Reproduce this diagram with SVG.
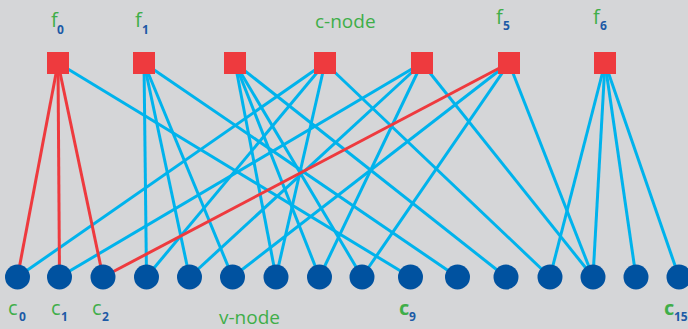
<svg xmlns="http://www.w3.org/2000/svg" width="688" height="329" viewBox="0 0 688 329">
  <defs>
    <style>
      .bg { fill: #d5d6d8; }
      .edge { stroke: #00b3ec; stroke-width: 3; fill: none; }
      .edge.hot { stroke: #ee3a3e; }
      .cnode { fill: #ee3a3e; }
      .vnode { fill: #0052a0; }
      .lbl { font-family: "Open Sans", "Liberation Sans", sans-serif; fill: #3fae49; }
      .main { font-size: 20px; }
      .sub { font-size: 12px; font-weight: bold; fill: #1d5aa6; }
      .title { font-size: 19px; }
    </style>
    <rect id="sq" x="-11" y="-11" width="22" height="22"/>
    <circle id="dot" r="12.5"/>
  </defs>

  <rect class="bg" x="0" y="0" width="688" height="329"/>

  <!-- connectors: check nodes (y=63) to variable nodes (y=277) -->
  <g id="connectors">
    <!-- f0 -->
    <line class="edge" x1="58" y1="63" x2="410.5" y2="277"/>
    <!-- f1 -->
    <line class="edge" x1="144" y1="63" x2="146.5" y2="277"/>
    <line class="edge" x1="144" y1="63" x2="189.5" y2="277"/>
    <line class="edge" x1="144" y1="63" x2="232.5" y2="277"/>
    <line class="edge" x1="144" y1="63" x2="457.5" y2="277"/>
    <!-- f2 -->
    <line class="edge" x1="235" y1="63" x2="276" y2="277"/>
    <line class="edge" x1="235" y1="63" x2="319.5" y2="277"/>
    <line class="edge" x1="235" y1="63" x2="362" y2="277"/>
    <line class="edge" x1="235" y1="63" x2="506" y2="277"/>
    <!-- f3 -->
    <line class="edge" x1="325" y1="63" x2="17.5" y2="277"/>
    <line class="edge" x1="325" y1="63" x2="146.5" y2="277"/>
    <line class="edge" x1="325" y1="63" x2="276" y2="277"/>
    <line class="edge" x1="325" y1="63" x2="550" y2="277"/>
    <!-- f4 -->
    <line class="edge" x1="422" y1="63" x2="59.5" y2="277"/>
    <line class="edge" x1="422" y1="63" x2="189.5" y2="277"/>
    <line class="edge" x1="422" y1="63" x2="319.5" y2="277"/>
    <line class="edge" x1="422" y1="63" x2="593" y2="277"/>
    <!-- f5 -->
    <line class="edge" x1="509" y1="63" x2="232.5" y2="277"/>
    <line class="edge" x1="509" y1="63" x2="362" y2="277"/>
    <line class="edge" x1="509" y1="63" x2="593" y2="277"/>
    <!-- f6 -->
    <line class="edge" x1="605" y1="63" x2="550" y2="277"/>
    <line class="edge" x1="605" y1="63" x2="593" y2="277"/>
    <line class="edge" x1="605" y1="63" x2="636" y2="277"/>
    <line class="edge" x1="605" y1="63" x2="679" y2="277"/>
    <!-- highlighted edges -->
    <line class="edge hot" x1="58" y1="63" x2="17.5" y2="277"/>
    <line class="edge hot" x1="58" y1="63" x2="59.5" y2="277"/>
    <line class="edge hot" x1="58" y1="63" x2="103" y2="277"/>
    <line class="edge hot" x1="509" y1="63" x2="103" y2="277"/>
  </g>

  <!-- check nodes -->
  <g id="f0" class="cnode"><use href="#sq" x="58" y="63"/></g>
  <g id="f1" class="cnode"><use href="#sq" x="144" y="63"/></g>
  <g id="f2" class="cnode"><use href="#sq" x="235" y="63"/></g>
  <g id="f3" class="cnode"><use href="#sq" x="325" y="63"/></g>
  <g id="f4" class="cnode"><use href="#sq" x="422" y="63"/></g>
  <g id="f5" class="cnode"><use href="#sq" x="509" y="63"/></g>
  <g id="f6" class="cnode"><use href="#sq" x="605" y="63"/></g>

  <!-- variable nodes -->
  <g id="c0" class="vnode"><use href="#dot" x="17.5" y="277"/></g>
  <g id="c1" class="vnode"><use href="#dot" x="59.5" y="277"/></g>
  <g id="c2" class="vnode"><use href="#dot" x="103" y="277"/></g>
  <g id="c3" class="vnode"><use href="#dot" x="146.5" y="277"/></g>
  <g id="c4" class="vnode"><use href="#dot" x="189.5" y="277"/></g>
  <g id="c5" class="vnode"><use href="#dot" x="232.5" y="277"/></g>
  <g id="c6" class="vnode"><use href="#dot" x="276" y="277"/></g>
  <g id="c7" class="vnode"><use href="#dot" x="319.5" y="277"/></g>
  <g id="c8" class="vnode"><use href="#dot" x="362" y="277"/></g>
  <g id="c9" class="vnode"><use href="#dot" x="410.5" y="277"/></g>
  <g id="c10" class="vnode"><use href="#dot" x="457.5" y="277"/></g>
  <g id="c11" class="vnode"><use href="#dot" x="506" y="277"/></g>
  <g id="c12" class="vnode"><use href="#dot" x="550" y="277"/></g>
  <g id="c13" class="vnode"><use href="#dot" x="593" y="277"/></g>
  <g id="c14" class="vnode"><use href="#dot" x="636" y="277"/></g>
  <g id="c15" class="vnode"><use href="#dot" x="679" y="277"/></g>

  <!-- labels -->
  <g id="labels" class="lbl">
    <text class="main" x="51" y="27">f<tspan class="sub" x="57" y="34">0</tspan></text>
    <text class="main" x="135" y="27">f<tspan class="sub" x="142" y="34">1</tspan></text>
    <text class="main" x="496" y="24">f<tspan class="sub" x="503" y="30">5</tspan></text>
    <text class="main" x="593" y="24">f<tspan class="sub" x="600" y="30">6</tspan></text>
    <text class="title" x="315" y="28">c-node</text>

    <text class="main" x="8" y="315">c<tspan class="sub" x="19" y="321">0</tspan></text>
    <text class="main" x="51" y="315">c<tspan class="sub" x="61" y="321">1</tspan></text>
    <text class="main" x="92" y="315">c<tspan class="sub" x="102" y="321">2</tspan></text>
    <text class="title" x="219" y="324">v-node</text>
    <text class="main" x="399" y="315" font-weight="bold">c<tspan class="sub" x="409" y="321">9</tspan></text>
    <text class="main" x="664" y="315" font-weight="bold">c<tspan class="sub" x="674" y="321">15</tspan></text>
  </g>
</svg>
